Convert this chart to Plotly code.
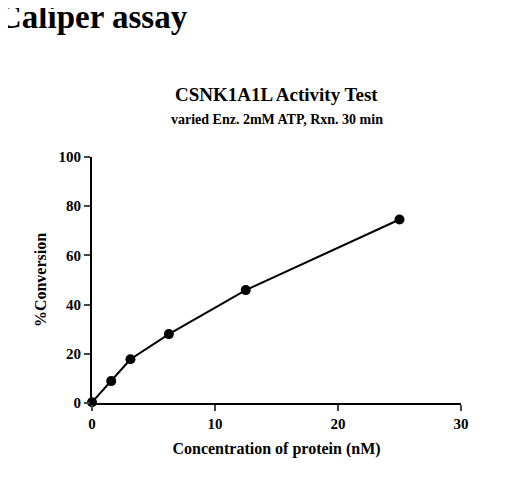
import plotly.graph_objects as go

conc = [0, 1.5625, 3.125, 6.25, 12.5, 25]
conversion = [0.3, 8.9, 17.8, 28.0, 45.9, 74.6]

fig = go.Figure(go.Scatter(
    x=conc, y=conversion, mode="lines+markers",
    line=dict(color="black", width=2),
    marker=dict(color="black", size=10),
    cliponaxis=False,
))

font = "Liberation Serif"
fig.update_layout(
    width=505, height=478,
    margin=dict(l=84, r=52, t=149, b=83),
    plot_bgcolor="white", paper_bgcolor="white",
    showlegend=False,
    font=dict(family=font, color="black", size=14),
    annotations=[
        dict(text="<b>Caliper assay</b>", x=-0.26, y=1.65, xref="paper", yref="paper",
             xanchor="left", yanchor="top", showarrow=False, font=dict(size=33)),
        dict(text="<b>CSNK1A1L Activity Test</b>", x=0.5, y=1, xref="paper", yref="paper",
             xanchor="center", yanchor="bottom", yshift=50, showarrow=False, font=dict(size=19)),
        dict(text="<b>varied Enz. 2mM ATP, Rxn. 30 min</b>", x=0.5, y=1, xref="paper", yref="paper",
             xanchor="center", yanchor="bottom", yshift=28, showarrow=False, font=dict(size=14)),
    ],
)

fig.update_xaxes(range=[0, 30], tickvals=[0, 10, 20, 30], showline=True, linecolor="black",
                 linewidth=2, ticks="outside", ticklen=6, tickwidth=2, showgrid=False,
                 zeroline=False, tickfont=dict(size=15, family=font, weight="bold"),
                 title=dict(text="<b>Concentration of protein (nM)</b>", font=dict(size=16), standoff=12))
fig.update_yaxes(range=[0, 100], tickvals=[0, 20, 40, 60, 80, 100], showline=True,
                 linecolor="black", linewidth=2, ticks="outside", ticklen=6, tickwidth=2,
                 showgrid=False, zeroline=False,
                 tickfont=dict(size=15, family=font, weight="bold"),
                 title=dict(text="<b>%Conversion</b>", font=dict(size=16), standoff=8))

fig.write_html("out.html")
